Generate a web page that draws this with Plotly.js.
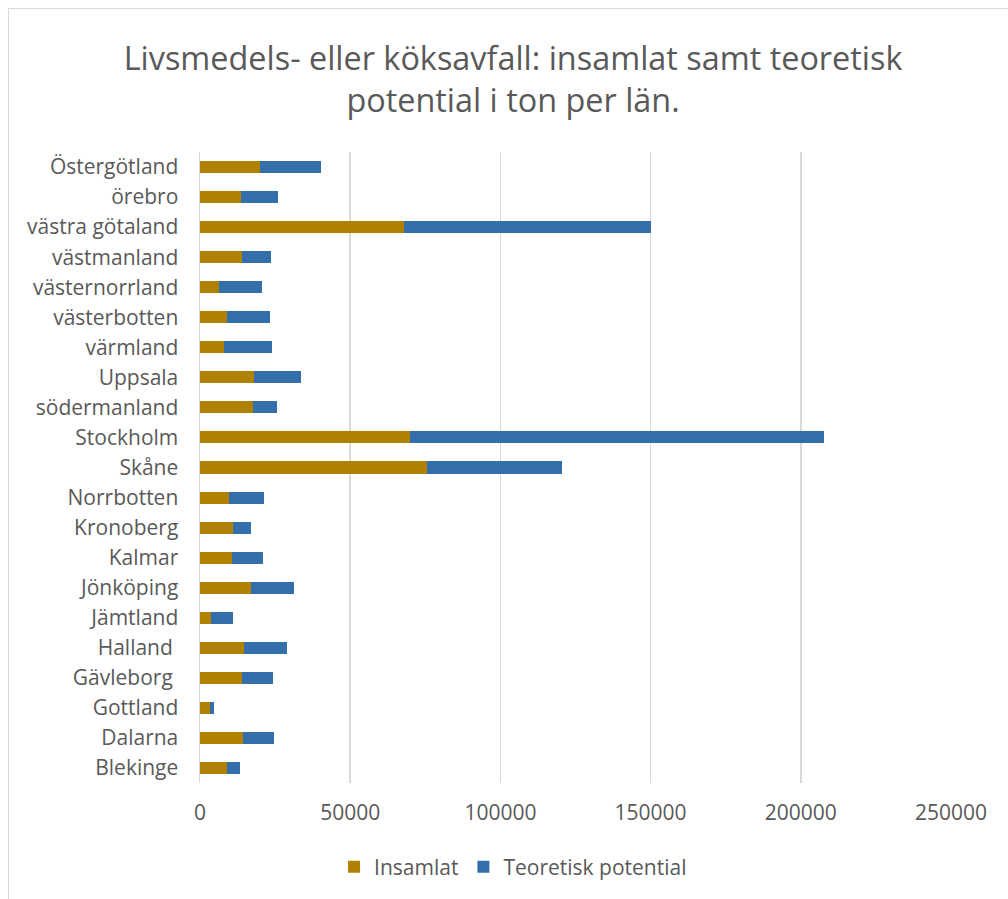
<!DOCTYPE html>
<html>
<head>
<meta charset="utf-8">
<script src="https://cdn.plot.ly/plotly-3.0.1.min.js"></script>
<style>
html,body{margin:0;padding:0;background:#fff;}
#wrap{position:absolute;left:0;top:0;width:1008px;height:899px;overflow:hidden;}
#frame{position:absolute;left:8px;top:8px;width:1100px;height:1000px;border:1px solid #d9d9d9;box-sizing:border-box;}
#chart{position:absolute;left:0;top:0;width:1008px;height:899px;}
</style>
</head>
<body>
<div id="wrap">
<div id="frame"></div>
<div id="chart"></div>
</div>
<script>
const counties = ["Blekinge","Dalarna","Gottland","Gävleborg ","Halland ","Jämtland","Jönköping","Kalmar","Kronoberg","Norrbotten","Skåne","Stockholm","södermanland","Uppsala","värmland","västerbotten","västernorrland","västmanland","västra götaland","örebro","Östergötland"];
const insamlat = [9060,14400,3400,14050,14700,3600,17050,10600,11050,9600,75650,69870,17480,17900,7930,9060,6270,14050,67800,13700,20050];
const teoretiskPotential = [4200,10100,1400,10400,14200,7300,14300,10300,6000,11550,44730,137800,8090,15650,16100,14200,14300,9550,82200,12300,20100];
const xTicks = [0,50000,100000,150000,200000,250000];

const font = "'Open Sans', sans-serif";
const textColor = "#595959";

const traces = [
  {type:"bar", orientation:"h", name:"Insamlat", y:counties, x:insamlat,
   marker:{color:"#ae8200"}, hoverinfo:"x+y"},
  {type:"bar", orientation:"h", name:"Teoretisk potential", y:counties, x:teoretiskPotential,
   marker:{color:"#3370ab"}, hoverinfo:"x+y"}
];

const layout = {
  width:1008, height:899,
  paper_bgcolor:"rgba(0,0,0,0)", plot_bgcolor:"rgba(0,0,0,0)",
  barmode:"stack", bargap:0.6,
  margin:{l:200, r:57, t:152, b:116},
  font:{family:font, color:textColor, size:21},
  title:{text:"Livsmedels- eller köksavfall: insamlat samt teoretisk<br>potential i ton per län.",
         x:0.509, xref:"container", xanchor:"center", y:1 - 70/899, yref:"container", yanchor:"middle",
         font:{family:font, size:32.4, color:textColor}},
  xaxis:{range:[0,250000], tickvals:xTicks, ticktext:xTicks.map(String),
         showgrid:true, gridcolor:"#d9d9d9", gridwidth:1.5, zeroline:false,
         showline:false, ticks:"", ticklabelstandoff:15,
         tickfont:{size:21, color:textColor, family:font}, fixedrange:true},
  yaxis:{type:"category", showline:true, linecolor:"#d9d9d9", linewidth:1.5,
         ticks:"", ticklabelstandoff:16, showgrid:false,
         tickfont:{size:21, color:textColor, family:font}, automargin:false},
  legend:{orientation:"h", x:0.509, xref:"container", xanchor:"center",
          y:1 - 867/899, yref:"container", yanchor:"middle",
          font:{size:21, color:textColor, family:font}, itemwidth:30, traceorder:"normal"},
  showlegend:true
};

Plotly.newPlot("chart", traces, layout, {displayModeBar:false, staticPlot:true});
</script>
</body>
</html>
